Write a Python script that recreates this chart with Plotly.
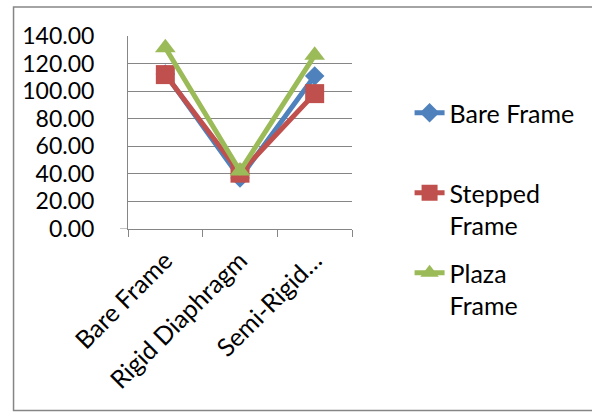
import plotly.graph_objects as go

categories = ["Bare Frame", "Rigid Diaphragm", "Semi-Rigid..."]
tick_labels = ["Bare Frame", "Rigid Diaphragm", "Semi-Rigid…"]
series_names = ["Bare Frame<br> ", "Stepped<br>Frame", "Plaza<br>Frame"]
bare_frame = [112.5, 37.0, 111.0]
stepped_frame = [112.0, 40.5, 98.2]
plaza_frame = [131.5, 42.0, 126.0]

colors = ["#4F81BD", "#C0504D", "#9BBB59"]
symbols = ["diamond", "square", "triangle-up"]
sizes = [15, 19, 18]

fig = go.Figure()
for i, (name, vals) in enumerate(zip(series_names, [bare_frame, stepped_frame, plaza_frame])):
    fig.add_trace(go.Scatter(
        x=categories, y=vals, name=name, mode="lines+markers",
        line=dict(color=colors[i], width=5),
        marker=dict(symbol=symbols[i], size=sizes[i], color=colors[i]),
        legendgroup=f"g{i}",
    ))

font_family = "Lato, Carlito, Calibri, sans-serif"
fig.update_layout(
    width=592, height=412,
    margin=dict(l=128, r=238, t=36, b=183),
    paper_bgcolor="white", plot_bgcolor="white",
    font=dict(family=font_family, size=22, color="#000000"),
    showlegend=True,
    legend=dict(
        x=1.257, y=0.72, xanchor="left", yanchor="top",
        valign="top", tracegroupgap=12, traceorder="grouped",
        font=dict(size=25), bgcolor="rgba(0,0,0,0)", maxheight=400,
    ),
    xaxis=dict(
        type="category", tickmode="array", tickvals=categories, ticktext=tick_labels,
        tickangle=-45, showgrid=False, showline=True, linecolor="#868686", linewidth=1,
        ticks="outside", tickson="boundaries", ticklen=7, tickcolor="#868686",
        tickfont=dict(size=25), range=[-0.5, 2.5], automargin=False,
        ticklabelstandoff=6,
    ),
    yaxis=dict(
        range=[0, 140], dtick=20, tickformat=".2f", showgrid=True, gridcolor="#868686",
        gridwidth=1, showline=True, linecolor="#868686", linewidth=1, zeroline=False,
        ticks="", tickfont=dict(size=23), ticklabelstandoff=28, automargin=False,
    ),
    shapes=[
        dict(type="rect", xref="paper", yref="paper",
             x0=-0.511, x1=2.2, y0=-0.94, y1=1.150,
             line=dict(color="#868686", width=1.5), fillcolor="rgba(0,0,0,0)", layer="below"),
        dict(type="line", xref="paper", yref="y", x0=-8 / 226, x1=0, y0=0, y1=0,
             line=dict(color="#868686", width=1)),
    ],
)

fig.write_html("out.html")
